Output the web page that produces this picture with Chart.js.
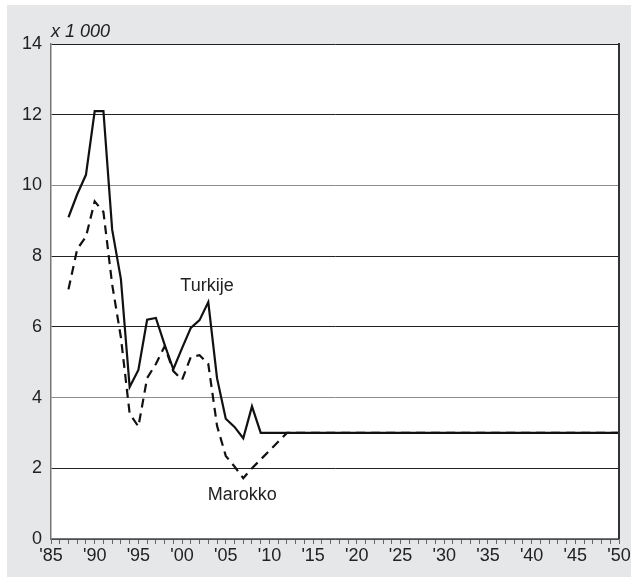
<!DOCTYPE html>
<html>
<head>
<meta charset="utf-8">
<script src="https://cdn.jsdelivr.net/npm/chart.js@4"></script>
<style>
  html, body { margin: 0; padding: 0; background: #fff; }
  #wrap { position: relative; width: 631px; height: 578px; }
</style>
</head>
<body>
<div id="wrap"><canvas id="migratieChart"></canvas></div>
<script>
// jaren met waarden; na 2012 blijft alles vlak tot 2050
const years = [1987, 1988, 1989, 1990, 1991, 1992, 1993, 1994, 1995, 1996, 1997, 1998, 1999,
  2000, 2001, 2002, 2003, 2004, 2005, 2006, 2007, 2008, 2009, 2010, 2011, 2012, 2050];
const turkije = [9.1, 9.75, 10.3, 12.1, 12.1, 8.75, 7.35, 4.3, 4.78, 6.2, 6.25, 5.5, 4.8,
  5.4, 5.97, 6.19, 6.7, 4.55, 3.4, 3.17, 2.85, 3.75, 3.0, 3.0, 3.0, 3.0, 3.0];
const marokko = [7.06, 8.2, 8.55, 9.55, 9.25, 7.2, 5.7, 3.55, 3.18, 4.55, 4.95, 5.45, 4.75,
  4.5, 5.15, 5.2, 4.95, 3.2, 2.35, 2.05, 1.72, 2.0, 2.25, 2.5, 2.75, 3.0, 3.0];
const yTicks = [0, 2, 4, 6, 8, 10, 12, 14];

const FONT = '"Liberation Sans", Arial, sans-serif';

const toPoints = (vals) => years.map((y, i) => ({ x: y, y: vals[i] }));

// achtergrond, kader en teksten in de grafiek
const frame = {
  id: 'frame',
  beforeDraw(chart) {
    const { ctx, chartArea: a } = chart;
    ctx.save();
    ctx.fillStyle = '#fff';
    ctx.fillRect(0, 0, chart.width, chart.height);
    ctx.fillStyle = '#e6e7e9';
    ctx.fillRect(7, 5, chart.width - 7, chart.height - 6);
    ctx.fillStyle = '#fff';
    ctx.fillRect(a.left, a.top, a.right - a.left, a.bottom - a.top);
    ctx.restore();
  },
  afterDraw(chart) {
    const { ctx, chartArea: a, scales } = chart;
    ctx.save();
    ctx.strokeStyle = '#333';
    ctx.lineWidth = 2;
    ctx.beginPath();
    ctx.moveTo(a.right, a.top - 1);
    ctx.lineTo(a.right, a.bottom);
    ctx.stroke();

    ctx.fillStyle = '#222';
    ctx.font = 'italic 18px ' + FONT;
    ctx.textBaseline = 'alphabetic';
    ctx.textAlign = 'left';
    ctx.fillText('x 1 000', a.left, a.top - 7);

    ctx.font = '18px ' + FONT;
    ctx.textAlign = 'center';
    ctx.textBaseline = 'middle';
    ctx.fillText('Turkije', scales.x.getPixelForValue(2002.85), scales.y.getPixelForValue(7.15));
    ctx.fillText('Marokko', scales.x.getPixelForValue(2006.9), scales.y.getPixelForValue(1.25));
    ctx.restore();
  }
};

const ctx = document.getElementById('migratieChart').getContext('2d');
const migratieChart = new Chart(ctx, {
  type: 'line',
  data: {
    datasets: [
      {
        label: 'Marokko',
        data: toPoints(marokko),
        borderColor: '#111',
        borderWidth: 2.2,
        borderDash: [9, 6],
        pointRadius: 0,
        tension: 0,
        fill: false
      },
      {
        label: 'Turkije',
        data: toPoints(turkije),
        borderColor: '#111',
        borderWidth: 2.2,
        pointRadius: 0,
        tension: 0,
        fill: false
      }
    ]
  },
  options: {
    responsive: true,
    maintainAspectRatio: false,
    animation: false,
    layout: { padding: { left: 7, right: 12, top: 44, bottom: 0 } },
    plugins: {
      legend: { display: false },
      tooltip: { enabled: false }
    },
    scales: {
      x: {
        type: 'linear',
        min: 1985,
        max: 2050,
        afterFit: (s) => {
          s.height = 39;
          s.paddingLeft = 0;
          s.paddingRight = 0;
        },
        border: { color: '#777', width: 1.5 },
        grid: {
          drawOnChartArea: false,
          drawTicks: true,
          tickLength: 5,
          color: '#666'
        },
        ticks: {
          stepSize: 1,
          maxTicksLimit: 100,
          autoSkip: false,
          maxRotation: 0,
          padding: 1,
          color: '#222',
          font: { family: FONT, size: 18 },
          callback: (v) => (v % 5 === 0 ? "'" + String(v % 100).padStart(2, '0') : '')
        }
      },
      y: {
        min: 0,
        max: 14,
        afterFit: (s) => { s.width = 44; },
        afterBuildTicks: (s) => { s.ticks = yTicks.map((v) => ({ value: v })); },
        border: { color: '#777', width: 1.5 },
        grid: {
          drawTicks: false,
          lineWidth: 1,
          color: (c) => (c.tick && (c.tick.value === 10 || c.tick.value === 4) ? '#8c8c8c' : '#222')
        },
        ticks: {
          padding: 9,
          color: '#222',
          font: { family: FONT, size: 18 }
        }
      }
    }
  },
  plugins: [frame]
});
</script>
</body>
</html>
